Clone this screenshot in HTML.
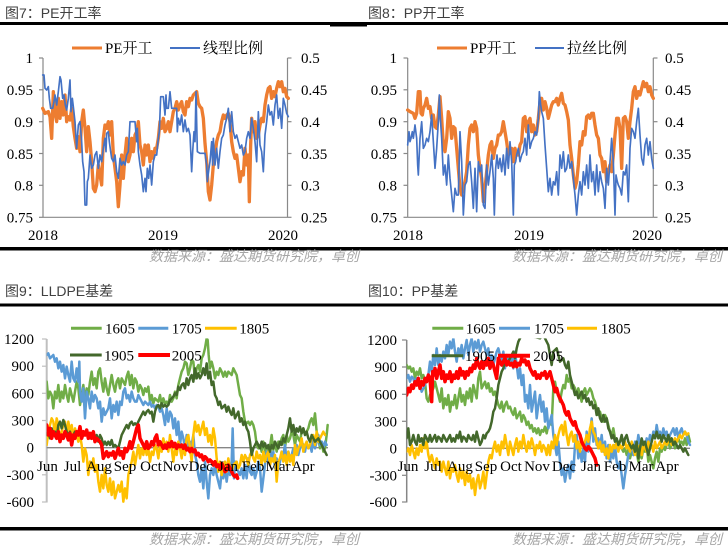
<!DOCTYPE html>
<html><head><meta charset="utf-8"><style>
html,body{margin:0;padding:0;background:#fff;}
svg{display:block;}
.t{font-family:"Liberation Sans","Noto Sans CJK SC",sans-serif;font-size:14px;fill:#404040;}
.s{font-family:"Liberation Sans","Noto Sans CJK SC",sans-serif;font-size:14px;fill:#a6a6a6;font-style:italic;}
.n{font-family:"Liberation Serif","Noto Serif CJK SC",serif;font-size:15px;fill:#000;}
.l{font-family:"Liberation Serif","Noto Serif CJK SC",serif;font-size:15px;fill:#000;}
polyline{fill:none;stroke-linejoin:round;stroke-linecap:round;}
</style></head><body>
<svg width="728" height="551" viewBox="0 0 728 551" xmlns="http://www.w3.org/2000/svg">
<rect width="728" height="551" fill="#fff"/>
<defs>
<clipPath id="c1"><rect x="0" y="0" width="750" height="490"/></clipPath>
<clipPath id="c3"><rect x="20" y="10" width="860" height="495"/></clipPath>
</defs>

<!-- Headers and separators -->
<text class="t" x="5" y="18">图7：PE开工率</text>
<text class="t" x="368" y="18">图8：PP开工率</text>
<rect x="0" y="22" width="728" height="3" fill="#000"/>
<rect x="330" y="25" width="37" height="1.5" fill="#000"/>
<rect x="0" y="247" width="728" height="3.5" fill="#000"/>
<text class="s" x="359" y="261" text-anchor="end">数据来源：盛达期货研究院，卓创</text>
<text class="s" x="722" y="261" text-anchor="end">数据来源：盛达期货研究院，卓创</text>

<text class="t" x="5" y="296">图9：LLDPE基差</text>
<text class="t" x="368" y="296">图10：PP基差</text>
<rect x="0" y="303.5" width="728" height="3" fill="#000"/>
<rect x="0" y="527" width="728" height="3.5" fill="#000"/>
<text class="s" x="359" y="544" text-anchor="end">数据来源：盛达期货研究院，卓创</text>
<text class="s" x="722" y="544" text-anchor="end">数据来源：盛达期货研究院，卓创</text>

<!-- ===== Chart 7 (top-left) ===== -->
<g stroke="#898989" stroke-width="1.2" fill="none">
<line x1="43" y1="58" x2="43" y2="217.3"/>
<line x1="287.5" y1="58" x2="287.5" y2="217.3"/>
<line x1="43" y1="217.3" x2="287.5" y2="217.3"/>
<line x1="39" y1="58" x2="43" y2="58"/><line x1="39" y1="89.8" x2="43" y2="89.8"/><line x1="39" y1="121.7" x2="43" y2="121.7"/><line x1="39" y1="153.5" x2="43" y2="153.5"/><line x1="39" y1="185.3" x2="43" y2="185.3"/><line x1="39" y1="217.3" x2="43" y2="217.3"/>
<line x1="287.5" y1="58" x2="291.5" y2="58"/><line x1="287.5" y1="89.8" x2="291.5" y2="89.8"/><line x1="287.5" y1="121.7" x2="291.5" y2="121.7"/><line x1="287.5" y1="153.5" x2="291.5" y2="153.5"/><line x1="287.5" y1="185.3" x2="291.5" y2="185.3"/><line x1="287.5" y1="217.3" x2="291.5" y2="217.3"/>
</g>
<g class="n" text-anchor="end">
<text x="33" y="63">1</text><text x="33" y="95">0.95</text><text x="33" y="127">0.9</text><text x="33" y="159">0.85</text><text x="33" y="190.5">0.8</text><text x="33" y="222.5">0.75</text>
</g>
<g class="n">
<text x="301" y="63">0.5</text><text x="301" y="95">0.45</text><text x="301" y="127">0.4</text><text x="301" y="159">0.35</text><text x="301" y="190.5">0.3</text><text x="301" y="222.5">0.25</text>
</g>
<g class="n" text-anchor="middle">
<text x="43" y="240">2018</text><text x="163" y="240">2019</text><text x="283" y="240">2020</text>
</g>
<line x1="72" y1="48" x2="102" y2="48" stroke="#ED7D31" stroke-width="3"/>
<text class="l" x="105" y="53">PE开工</text>
<line x1="170" y1="48" x2="200" y2="48" stroke="#4472C4" stroke-width="2"/>
<text class="l" x="203" y="53">线型比例</text>

<g transform="translate(40,55) scale(0.33333)" clip-path="url(#c1)">
<polyline stroke="#ED7D31" stroke-width="10" points="8,160 15,175 25,170 30,185 35,250 40,110 45,175 50,200 55,130 60,190 65,140 70,180 75,120 80,200 85,185 90,195 95,160 100,215 105,250 110,280 115,245 120,290 125,200 130,165 135,220 140,290 145,215 150,260 155,320 160,400 165,410 170,390 175,330 180,360 185,390 190,250 195,210 200,220 205,200 210,240 215,200 220,300 225,340 230,380 235,455 240,390 245,300 250,370 255,300 260,250 265,320 270,300 275,250 280,290 285,240 290,230 295,200 300,270 305,290 310,330 315,270 320,300 325,270 330,320 335,290 340,310 345,280 350,280 355,250 360,200 365,220 370,190 375,230 380,220 385,200 390,230 395,200 400,170 405,160 410,140 415,165 420,150 425,140 430,170 435,180 440,140 445,155 450,130 455,135 460,120 465,115 470,110 475,145 480,155 485,160 490,190 495,265 500,320 505,410 510,435 515,390 520,330 525,300 530,260 535,240 540,230 545,200 550,180 555,190 560,180 565,175 570,200 575,260 580,290 585,310 590,300 595,340 600,380 605,350 610,360 615,280 620,330 625,300 628,440 632,270 635,190 640,230 645,200 650,250 655,240 660,210 665,190 670,200 675,150 680,120 685,100 690,95 695,130 700,110 705,125 710,100 715,80 720,95 725,80 730,110 735,100 740,125 745,130"/>
<polyline stroke="#4472C4" stroke-width="5" points="8,60 12,60 15,100 20,105 25,95 28,130 32,160 38,160 42,140 45,120 50,150 55,110 60,65 63,75 68,130 72,120 76,150 80,165 85,130 90,75 93,170 97,130 100,155 105,200 110,280 115,210 120,200 125,260 128,320 132,350 135,450 140,450 142,380 145,370 150,300 155,340 160,330 165,300 170,290 175,340 180,300 185,320 190,280 195,250 198,290 200,235 205,230 208,260 212,290 215,310 220,320 225,300 230,350 235,370 240,310 245,330 250,320 255,330 260,300 265,290 270,200 275,200 285,200 290,260 292,220 295,290 300,330 305,360 310,410 315,370 318,410 322,340 326,370 330,330 335,390 340,320 345,300 350,300 355,250 358,230 362,125 370,125 375,180 378,120 380,160 385,160 390,110 395,160 400,160 410,160 412,230 415,190 420,210 425,180 430,230 435,195 440,230 445,220 450,240 455,350 458,290 462,230 465,260 468,110 472,290 480,295 495,295 500,330 502,380 507,340 510,320 515,260 518,330 520,250 525,330 530,280 535,340 540,290 545,250 550,240 555,210 560,190 565,160 570,230 575,170 580,230 585,250 590,240 595,260 600,280 605,270 610,300 615,290 620,250 625,230 630,250 635,190 640,220 645,260 650,320 655,170 660,270 665,290 670,350 675,240 680,200 685,150 690,180 695,170 700,210 705,150 710,120 715,190 720,160 725,220 730,130 735,150 740,175 745,185"/>
</g>

<!-- ===== Chart 8 (top-right) ===== -->
<g stroke="#898989" stroke-width="1.2" fill="none">
<line x1="407.7" y1="58" x2="407.7" y2="217.3"/>
<line x1="653.3" y1="58" x2="653.3" y2="217.3"/>
<line x1="407.7" y1="217.3" x2="653.3" y2="217.3"/>
<line x1="403.5" y1="58" x2="407.7" y2="58"/><line x1="403.5" y1="89.8" x2="407.7" y2="89.8"/><line x1="403.5" y1="121.7" x2="407.7" y2="121.7"/><line x1="403.5" y1="153.5" x2="407.7" y2="153.5"/><line x1="403.5" y1="185.3" x2="407.7" y2="185.3"/><line x1="403.5" y1="217.3" x2="407.7" y2="217.3"/>
<line x1="653.3" y1="58" x2="657.5" y2="58"/><line x1="653.3" y1="89.8" x2="657.5" y2="89.8"/><line x1="653.3" y1="121.7" x2="657.5" y2="121.7"/><line x1="653.3" y1="153.5" x2="657.5" y2="153.5"/><line x1="653.3" y1="185.3" x2="657.5" y2="185.3"/><line x1="653.3" y1="217.3" x2="657.5" y2="217.3"/>
</g>
<g class="n" text-anchor="end">
<text x="397" y="63">1</text><text x="397" y="95">0.95</text><text x="397" y="127">0.9</text><text x="397" y="159">0.85</text><text x="397" y="190.5">0.8</text><text x="397" y="222.5">0.75</text>
</g>
<g class="n">
<text x="665" y="63">0.5</text><text x="665" y="95">0.45</text><text x="665" y="127">0.4</text><text x="665" y="159">0.35</text><text x="665" y="190.5">0.3</text><text x="665" y="222.5">0.25</text>
</g>
<g class="n" text-anchor="middle">
<text x="408" y="240">2018</text><text x="529" y="240">2019</text><text x="647" y="240">2020</text>
</g>
<line x1="437" y1="48" x2="467" y2="48" stroke="#ED7D31" stroke-width="3"/>
<text class="l" x="470" y="53">PP开工</text>
<line x1="535" y1="48" x2="564" y2="48" stroke="#4472C4" stroke-width="2"/>
<text class="l" x="567" y="53">拉丝比例</text>

<g transform="translate(405,55) scale(0.33333)" clip-path="url(#c1)">
<polyline stroke="#ED7D31" stroke-width="10" points="8,165 15,170 25,175 30,190 35,175 40,110 45,110 48,175 52,180 55,160 60,150 65,130 70,160 75,155 80,190 85,180 90,215 95,220 100,180 105,125 110,190 115,270 120,290 125,250 130,170 135,190 140,250 145,215 150,220 155,280 160,340 165,400 170,420 175,400 180,380 185,350 190,270 195,220 200,210 205,230 210,200 215,220 220,300 225,340 230,370 235,440 240,400 245,350 250,300 255,270 260,260 265,310 270,280 275,270 280,240 285,240 290,230 295,200 300,230 305,260 310,300 315,290 320,280 325,320 330,280 335,300 340,300 345,270 350,260 355,190 360,185 365,230 370,200 375,190 380,230 385,210 390,240 395,230 400,190 405,140 410,130 415,165 420,140 425,160 430,190 435,170 440,150 445,140 450,140 455,130 460,150 465,130 470,115 475,145 480,150 485,170 490,195 495,270 500,310 505,360 510,400 515,380 520,330 525,260 530,270 535,230 540,240 545,185 550,180 555,190 560,175 565,175 570,210 575,240 580,250 585,300 590,310 595,350 600,320 605,380 610,350 615,330 620,350 625,300 630,240 635,190 640,190 645,220 650,340 655,190 660,185 665,200 670,250 675,200 680,160 685,110 690,95 695,130 700,110 705,120 710,100 715,80 720,95 725,85 730,110 735,95 740,120 745,130"/>
<polyline stroke="#4472C4" stroke-width="5" points="8,270 12,230 15,260 18,250 22,230 25,250 30,210 35,250 38,330 40,360 45,250 50,200 55,280 60,270 65,250 70,260 75,230 80,180 85,260 90,340 95,280 100,200 103,120 106,190 110,250 115,360 120,330 125,390 130,300 135,370 140,420 145,470 150,400 155,420 160,420 165,230 170,320 175,480 180,390 185,380 190,330 195,320 200,380 205,460 210,340 215,470 220,320 225,350 230,330 235,450 240,460 245,330 250,390 255,350 260,300 265,370 268,480 272,340 276,300 280,340 285,310 290,350 295,300 300,360 305,280 310,340 315,260 320,320 325,480 328,330 332,320 335,300 340,280 345,320 350,300 355,290 360,250 365,300 370,210 375,280 380,260 385,250 390,230 395,240 400,190 403,110 407,150 410,170 415,190 420,270 425,340 430,410 435,370 440,420 445,380 450,390 455,350 460,420 465,300 470,340 475,290 480,350 485,340 490,300 495,340 500,320 505,370 510,420 515,480 520,420 525,380 530,420 535,350 540,390 545,330 550,400 555,300 560,380 565,350 570,420 575,330 580,410 585,350 590,380 595,400 600,460 605,340 610,390 615,320 620,250 625,320 630,480 633,360 637,380 640,390 645,400 650,420 655,350 660,360 665,330 670,440 675,280 680,220 685,230 690,250 695,200 700,160 705,240 710,310 715,330 720,270 725,250 730,300 735,260 740,310 745,340"/>
</g>

<!-- ===== Chart 9 (bottom-left) ===== -->
<line x1="46.7" y1="339" x2="46.7" y2="502.5" stroke="#BFBFBF" stroke-width="2"/>
<g stroke="#BFBFBF" stroke-width="1.2">
<line x1="42" y1="339" x2="46.7" y2="339"/><line x1="42" y1="366.2" x2="46.7" y2="366.2"/><line x1="42" y1="393.3" x2="46.7" y2="393.3"/><line x1="42" y1="420.5" x2="46.7" y2="420.5"/><line x1="42" y1="474.8" x2="46.7" y2="474.8"/><line x1="42" y1="502" x2="46.7" y2="502"/>
</g>
<line x1="46.7" y1="447.7" x2="328" y2="447.7" stroke="#868686" stroke-width="1.3"/>
<g class="n" text-anchor="end">
<text x="34" y="344">1200</text><text x="34" y="371">900</text><text x="34" y="398.5">600</text><text x="34" y="425.5">300</text><text x="34" y="452.7">0</text><text x="34" y="480">-300</text><text x="34" y="507">-600</text>
</g>

<g transform="translate(40,335) scale(0.33333)" clip-path="url(#c3)">
<polyline stroke="#70AD47" stroke-width="7.5" points="20,140 25,190 30,170 35,180 40,220 45,170 50,190 55,150 60,200 65,170 70,190 75,150 80,180 85,200 90,160 95,180 100,200 105,170 110,140 115,160 120,210 125,180 130,150 135,200 140,160 145,180 150,140 155,110 160,150 165,130 170,160 175,110 180,100 185,140 190,170 195,130 200,160 205,180 210,150 215,120 220,150 225,170 230,140 235,130 240,160 245,130 250,140 255,150 260,125 265,110 270,150 275,120 280,160 285,130 290,140 295,170 300,150 305,160 310,180 315,160 320,170 325,155 330,200 335,180 340,205 345,190 350,195 355,200 360,180 365,210 370,190 375,205 380,200 385,210 390,180 395,200 400,190 405,170 410,190 415,150 420,130 425,110 430,100 435,80 440,85 445,120 450,100 455,75 460,80 465,130 470,100 475,90 480,110 485,70 490,60 495,40 500,10 503,15 506,60 510,100 515,80 520,100 525,130 530,110 535,120 540,100 545,110 550,125 555,110 560,125 565,110 570,115 575,120 580,100 585,110 590,120 595,150 600,180 605,190 610,230 615,260 620,265 625,260 630,270 635,260 640,270 645,290 650,330 655,340 660,330 665,350 670,320 675,345 680,360 685,340 690,335 695,300 700,345 705,320 710,350 715,320 720,330 725,310 730,300 735,340 740,300 745,320 750,310 755,290 760,300 765,330 770,300 775,310 780,320 785,290 790,280 795,300 800,290 805,280 810,260 815,250 820,270 825,235 830,290 835,310 840,340 845,320 850,350 855,340 860,300 863,270"/>
<polyline stroke="#5B9BD5" stroke-width="7.5" points="20,60 25,55 30,70 35,65 40,60 45,80 50,70 55,100 60,80 65,110 70,90 75,130 80,95 85,120 90,140 95,80 100,130 105,140 110,100 115,140 118,80 120,170 125,200 130,160 135,250 140,170 145,190 150,220 155,170 160,200 165,180 170,190 175,220 180,200 185,260 190,220 195,240 200,230 205,220 210,190 215,250 220,210 225,230 230,200 235,240 240,200 245,210 250,170 255,160 260,190 265,180 270,200 275,170 280,190 285,200 290,200 295,180 300,190 305,200 310,210 315,200 320,205 325,210 330,200 335,215 340,210 345,220 350,210 355,215 360,230 365,220 370,240 375,270 380,220 385,260 390,230 395,240 400,280 405,250 410,300 415,260 420,330 425,290 430,310 435,340 440,300 445,340 450,320 455,330 460,300 465,360 470,380 475,420 480,440 485,400 490,460 495,380 500,440 505,490 510,420 515,400 520,420 525,390 530,420 535,440 540,460 545,410 550,430 555,400 560,440 565,400 570,420 575,380 578,280 582,430 585,380 590,400 595,410 600,420 605,400 610,430 615,390 620,430 625,370 630,410 635,420 640,400 645,430 650,410 655,380 660,400 665,470 670,430 675,390 680,350 685,380 690,340 695,370 700,350 705,400 710,370 715,400 720,380 725,350 730,360 735,330 740,380 745,350 750,370 755,360 760,340 765,350 770,330 775,360 780,340 785,320 790,330 795,350 800,320 805,340 810,330 815,350 820,310 825,340 830,320 835,300 840,330 845,320 850,340 855,320 860,330"/>
<polyline stroke="#FFC000" stroke-width="7.5" points="20,330 25,290 30,270 35,250 40,260 45,300 50,250 55,270 60,320 65,290 70,270 75,260 80,300 85,260 90,290 95,270 100,310 105,280 110,300 115,320 120,300 125,330 130,380 135,340 140,360 145,420 150,380 155,400 160,370 165,410 170,390 175,440 180,470 185,420 190,460 195,400 200,450 205,470 210,430 215,480 220,440 225,490 230,470 235,450 240,470 245,440 250,500 255,460 260,490 265,420 270,400 275,380 280,350 285,390 290,360 295,330 300,370 305,340 310,360 315,330 320,360 325,340 330,380 335,350 340,360 345,330 350,340 355,370 360,330 365,350 370,310 375,340 380,320 385,350 390,300 395,340 400,380 405,340 410,360 415,320 420,340 425,370 430,330 435,360 440,310 445,300 450,340 455,380 460,300 465,260 470,290 475,270 480,300 485,280 490,260 495,300 500,280 505,320 510,300 515,330 520,280 525,310 530,370 535,410 540,380 545,420 550,390 555,380 560,410 565,370 570,400 575,410 580,390 590,380 595,400 600,390 605,360 610,380 615,360 620,370 625,390 630,360 635,350 640,370 645,380 650,350 655,370 660,360 665,390 670,350 675,380 680,360 685,350 690,390 695,370 700,380 705,360 710,440 715,380 720,370 725,350 730,380 735,360 740,390 745,350 750,380 755,360 760,390 765,330 770,360 775,340 780,330 785,310 790,350 795,330 800,320 805,340 810,330 815,310 820,300 825,330 830,290 835,320 840,310 845,300 850,290 855,300"/>
<polyline stroke="#43682B" stroke-width="7.5" points="20,300 25,290 30,310 35,280 40,300 45,290 50,310 55,270 60,260 65,280 70,255 75,270 80,290 85,300 90,290 95,310 100,300 105,290 110,300 115,300 120,290 125,310 130,300 135,295 140,290 145,300 150,310 155,300 160,295 165,310 170,300 175,320 180,300 185,310 190,330 195,320 200,330 205,320 210,330 215,315 220,335 225,330 230,335 235,340 240,320 245,300 250,290 255,280 260,270 265,280 270,265 275,260 280,270 285,265 290,270 295,260 300,250 305,240 310,230 315,240 320,230 325,225 330,235 335,230 340,260 345,230 350,215 355,210 360,220 365,205 370,215 375,210 380,215 385,210 390,195 395,190 400,185 405,175 410,180 415,155 420,165 425,150 430,145 435,160 440,130 445,150 450,130 455,120 460,140 465,100 470,130 475,115 480,130 485,120 490,100 495,120 500,85 505,130 510,110 515,150 520,140 525,180 530,190 535,210 540,200 545,220 550,215 555,210 560,230 565,215 570,230 575,240 580,220 585,250 590,240 595,230 600,260 605,250 610,270 615,260 620,280 625,290 630,320 635,360 640,340 645,330 650,320 655,330 660,340 665,320 670,335 675,325 680,340 685,330 690,350 695,330 700,340 705,320 710,330 715,340 720,320 725,330 730,310 735,320 740,300 745,280 750,250 755,290 760,270 765,300 770,280 775,290 780,275 785,295 790,280 795,300 800,290 805,310 810,320 815,300 820,310 825,320 830,315 835,310 840,320 845,330 850,340 855,350 860,360"/>
<polyline stroke="#FF0000" stroke-width="10.5" points="20,270 25,300 30,280 35,310 40,290 45,300 50,310 55,290 60,320 65,300 70,310 75,290 80,300 85,315 90,295 95,330 100,300 105,310 110,290 115,300 120,275 125,310 130,290 135,300 140,285 145,310 150,295 155,310 160,290 165,320 170,310 175,315 180,320 185,330 190,370 195,360 200,350 205,365 210,355 215,360 220,350 225,370 230,355 235,340 240,360 245,350 250,370 255,340 260,350 265,340 270,320 275,340 280,320 285,300 290,280 295,270 300,310 305,320 310,330 315,340 320,320 325,340 330,335 335,320 340,330 345,310 350,300 355,330 360,320 365,330 370,340 375,330 380,340 385,325 390,335 395,320 400,335 405,325 410,340 415,330 420,335 425,330 430,340 435,330 440,345 445,340 450,350 455,340 460,350 465,345 470,360 475,355 480,365 485,360 490,375 495,365 500,370 505,380 510,375 515,380 520,390 525,380 530,395 535,390 540,400 545,385 550,395 555,410 560,405 565,390 570,400 575,410 580,420 585,425 590,420 593,430"/>
</g>
<g class="n" text-anchor="middle">
<text x="47.5" y="471">Jun</text><text x="72.5" y="471">Jul</text><text x="99" y="471">Aug</text><text x="125" y="471">Sep</text><text x="151" y="471">Oct</text><text x="175.5" y="471">Nov</text><text x="200.7" y="471">Dec</text><text x="228" y="471">Jan</text><text x="253" y="471">Feb</text><text x="278" y="471">Mar</text><text x="303" y="471">Apr</text>
</g>
<line x1="71" y1="328.3" x2="101.7" y2="328.3" stroke="#70AD47" stroke-width="3"/>
<text class="l" x="105" y="333.5">1605</text>
<line x1="138.3" y1="328.3" x2="168.3" y2="328.3" stroke="#5B9BD5" stroke-width="3"/>
<text class="l" x="171.7" y="333.5">1705</text>
<line x1="205" y1="328.3" x2="236.7" y2="328.3" stroke="#FFC000" stroke-width="3"/>
<text class="l" x="239.3" y="333.5">1805</text>
<line x1="70" y1="355" x2="101.7" y2="355" stroke="#43682B" stroke-width="3"/>
<text class="l" x="104" y="360.5">1905</text>
<line x1="138.3" y1="355" x2="170" y2="355" stroke="#FF0000" stroke-width="4"/>
<text class="l" x="171.7" y="360.5">2005</text>

<!-- ===== Chart 10 (bottom-right) ===== -->
<line x1="406.7" y1="340" x2="406.7" y2="502.5" stroke="#868686" stroke-width="1.5"/>
<g stroke="#868686" stroke-width="1.2">
<line x1="402" y1="340" x2="406.7" y2="340"/><line x1="402" y1="367" x2="406.7" y2="367"/><line x1="402" y1="394.3" x2="406.7" y2="394.3"/><line x1="402" y1="421.3" x2="406.7" y2="421.3"/><line x1="402" y1="475.3" x2="406.7" y2="475.3"/><line x1="402" y1="502" x2="406.7" y2="502"/>
</g>
<line x1="406.7" y1="448.3" x2="690" y2="448.3" stroke="#868686" stroke-width="1.3"/>
<g class="n" text-anchor="end">
<text x="397" y="345">1200</text><text x="397" y="372">900</text><text x="397" y="399.3">600</text><text x="397" y="426.3">300</text><text x="397" y="453.3">0</text><text x="397" y="480.3">-300</text><text x="397" y="507">-600</text>
</g>

<g transform="translate(400,335) scale(0.33333)" clip-path="url(#c3)">
<polyline stroke="#70AD47" stroke-width="7.5" points="20,90 25,100 30,95 35,110 40,100 45,130 50,110 55,120 60,100 65,130 70,120 75,140 80,190 85,200 90,180 95,170 100,160 105,140 110,160 115,180 120,200 125,160 130,220 135,190 140,210 145,180 150,230 155,200 160,210 165,180 170,220 175,190 180,160 185,200 190,180 195,210 200,170 205,190 210,160 215,200 220,150 225,170 230,190 235,130 240,110 245,160 250,150 255,140 260,160 265,145 270,170 275,160 280,180 285,170 290,190 295,210 300,220 305,200 310,230 315,210 320,200 325,220 330,215 335,230 340,240 345,220 350,250 355,240 360,230 365,260 370,240 375,250 380,270 385,260 390,280 395,270 400,290 405,280 410,295 415,280 420,300 425,285 430,290 435,275 440,295 445,270 450,260 455,270 460,160 465,140 470,170 475,180 480,200 485,170 490,150 495,160 500,120 505,140 510,130 515,160 520,150 525,160 530,180 535,160 540,180 545,200 550,170 555,160 560,180 565,170 570,160 575,170 580,190 585,200 590,220 595,240 600,230 605,250 610,260 615,240 620,250 625,270 630,290 635,300 640,280 645,310 650,330 655,320 660,330 665,340 670,350 675,340 680,360 685,345 690,370 695,350 700,360 705,340 710,350 715,380 720,350 725,370 730,340 735,350 740,330 745,380 750,360 755,380 760,400 765,370 770,350 775,380 780,340 785,350 790,330 795,345 800,330 805,320 810,340 815,330 820,320 825,340 830,320 835,310 840,325 845,320 850,330 855,310 860,330 865,300 870,320"/>
<polyline stroke="#5B9BD5" stroke-width="7.5" points="20,130 25,120 30,140 35,125 40,130 45,150 50,130 55,140 60,150 65,170 70,160 75,150 80,130 85,120 90,80 95,110 100,60 105,90 110,40 115,90 120,60 125,80 130,50 135,70 140,30 145,60 150,20 155,40 160,10 165,50 170,80 175,40 180,60 185,30 190,70 195,40 200,15 205,60 210,30 215,10 220,50 225,20 230,40 235,15 240,50 245,30 250,20 255,40 260,60 265,40 270,80 275,60 280,90 285,70 290,50 295,40 300,60 305,80 310,50 315,100 320,60 325,80 330,90 335,60 340,100 345,50 350,90 355,130 360,100 365,150 370,120 375,200 380,180 385,220 390,150 395,230 400,200 405,170 410,250 415,210 420,180 425,230 430,200 435,260 440,220 445,280 450,260 455,240 460,300 465,330 470,360 475,320 480,380 485,420 490,400 495,440 500,410 505,390 510,430 515,380 520,410 525,330 530,300 535,370 540,340 545,380 550,340 555,380 560,290 565,350 570,300 575,250 580,320 585,280 590,330 595,310 600,340 605,300 610,350 615,320 620,370 625,330 630,380 635,350 640,370 645,330 650,380 655,400 660,380 665,420 670,460 675,420 680,390 685,360 690,350 695,330 700,360 705,320 710,340 715,300 720,330 725,350 730,320 735,340 740,310 745,330 750,300 755,320 760,290 765,310 770,270 775,300 780,290 785,310 790,280 795,300 800,290 805,320 810,300 815,290 820,280 825,300 830,280 835,310 840,290 845,280 850,300 855,290 860,300 865,320 870,330"/>
<polyline stroke="#FFC000" stroke-width="7.5" points="20,350 25,340 30,360 35,330 40,350 45,370 50,340 55,360 60,330 65,350 70,310 75,340 80,320 85,360 90,380 95,360 100,380 105,400 110,370 115,390 120,380 125,410 130,380 135,400 140,420 145,380 150,430 155,400 160,410 165,390 170,420 175,440 180,400 185,430 190,410 195,450 200,410 205,440 210,420 215,460 220,430 225,480 230,440 235,420 240,460 245,440 250,410 255,460 260,420 265,380 270,360 275,370 280,340 285,320 290,350 295,330 300,360 305,320 310,340 315,300 320,330 325,360 330,320 335,340 340,360 345,330 350,310 355,350 360,320 365,340 370,300 375,330 380,350 385,320 390,340 395,310 400,330 405,360 410,330 415,340 420,320 425,350 430,330 435,340 440,360 445,330 450,360 455,320 460,340 465,300 470,330 475,300 480,280 485,270 490,300 495,260 500,300 505,330 510,300 515,290 520,320 525,300 530,340 535,320 540,350 545,310 550,330 555,320 560,300 565,320 570,280 575,260 580,290 585,300 590,320 595,340 600,320 605,350 610,330 615,360 620,340 625,370 630,330 635,350 640,330 645,340 650,320 655,350 660,330 665,340 670,330 675,320 680,340 685,330 690,350 695,320 700,340 705,360 710,330 715,340 720,330 725,360 730,330 735,340 740,350 745,320 750,340 755,330 760,350 765,320 770,340 775,330 780,320 785,340 790,330 795,320 800,330 805,320 810,310 815,330 820,320 825,310 830,320 835,310 840,300 845,310 850,300 855,290 860,300 865,295"/>
<polyline stroke="#43682B" stroke-width="7.5" points="20,310 25,280 30,330 35,320 40,300 45,320 50,330 55,300 60,320 65,310 70,330 75,300 80,310 85,320 90,300 95,320 100,310 105,300 110,320 115,305 120,310 125,320 130,300 135,310 140,320 145,310 150,300 155,320 160,310 165,320 170,300 175,310 180,290 185,320 190,305 195,310 200,320 205,300 210,310 215,315 220,300 225,320 230,290 235,310 240,330 245,320 250,300 255,310 260,295 265,290 270,280 275,260 280,230 285,220 290,190 295,150 300,130 305,110 310,100 315,80 320,90 325,80 330,70 335,60 340,50 345,70 350,40 355,20 360,10 365,0 380,-5 400,5 420,10 430,0 440,20 445,30 450,60 455,90 460,50 470,40 480,80 490,70 495,90 500,100 505,80 510,120 515,140 520,160 525,180 530,170 535,190 540,180 545,170 550,190 555,180 560,200 565,190 570,210 575,200 580,220 585,210 590,240 595,220 600,250 605,260 610,240 615,260 620,250 625,280 630,290 635,310 640,300 645,320 650,310 655,330 660,320 665,300 670,330 675,310 680,300 685,320 690,330 695,340 700,330 705,350 710,320 715,370 720,340 725,310 730,330 735,320 740,340 745,360 750,340 755,320 760,300 765,310 770,290 775,310 780,300 785,320 790,300 795,310 800,320 805,300 810,320 815,310 820,330 825,320 830,330 835,340 840,330 845,340 850,350 855,340 860,350 865,360"/>
<polyline stroke="#FF0000" stroke-width="10.5" points="20,180 25,160 30,170 35,150 40,160 45,140 50,150 55,130 60,160 65,140 70,150 75,130 80,140 85,120 90,130 95,200 98,110 102,120 105,100 110,130 115,110 120,90 125,130 130,110 135,140 140,120 145,130 150,110 155,140 160,120 165,130 170,110 175,130 180,100 185,120 190,110 195,130 200,110 205,120 210,100 215,110 220,90 225,100 230,70 235,90 240,100 245,80 250,100 255,80 260,90 265,70 270,100 275,80 280,90 285,110 290,130 295,70 300,80 305,90 310,80 315,70 320,90 325,80 330,90 335,85 340,95 345,80 350,95 355,85 360,90 365,70 370,80 375,75 380,90 385,80 390,100 395,110 400,120 405,110 410,130 415,120 420,130 425,115 430,120 435,110 440,130 445,120 450,110 455,130 460,150 465,170 470,160 475,180 480,190 485,200 490,210 495,230 500,240 505,230 510,250 515,260 520,270 525,260 530,280 535,290 540,300 545,320 550,330 555,340 560,345 565,335 570,340 575,350 580,360 585,370 590,390"/>
</g>
<g class="n" text-anchor="middle">
<text x="408" y="471">Jun</text><text x="433" y="471">Jul</text><text x="460" y="471">Aug</text><text x="486" y="471">Sep</text><text x="511" y="471">Oct</text><text x="537" y="471">Nov</text><text x="564" y="471">Dec</text><text x="591" y="471">Jan</text><text x="615" y="471">Feb</text><text x="641" y="471">Mar</text><text x="667" y="471">Apr</text>
</g>
<line x1="432.3" y1="328.3" x2="463.3" y2="328.3" stroke="#70AD47" stroke-width="3"/>
<text class="l" x="465.7" y="333.5">1605</text>
<line x1="499" y1="328.3" x2="530" y2="328.3" stroke="#5B9BD5" stroke-width="3"/>
<text class="l" x="534" y="333.5">1705</text>
<line x1="567" y1="328.3" x2="597" y2="328.3" stroke="#FFC000" stroke-width="3"/>
<text class="l" x="600.7" y="333.5">1805</text>
<line x1="431.7" y1="355.7" x2="463.3" y2="355.7" stroke="#43682B" stroke-width="3"/>
<text class="l" x="465" y="361">1905</text>
<line x1="498" y1="355.7" x2="530" y2="355.7" stroke="#FF0000" stroke-width="4"/>
<text class="l" x="533.3" y="361">2005</text>
</svg>
</body></html>
